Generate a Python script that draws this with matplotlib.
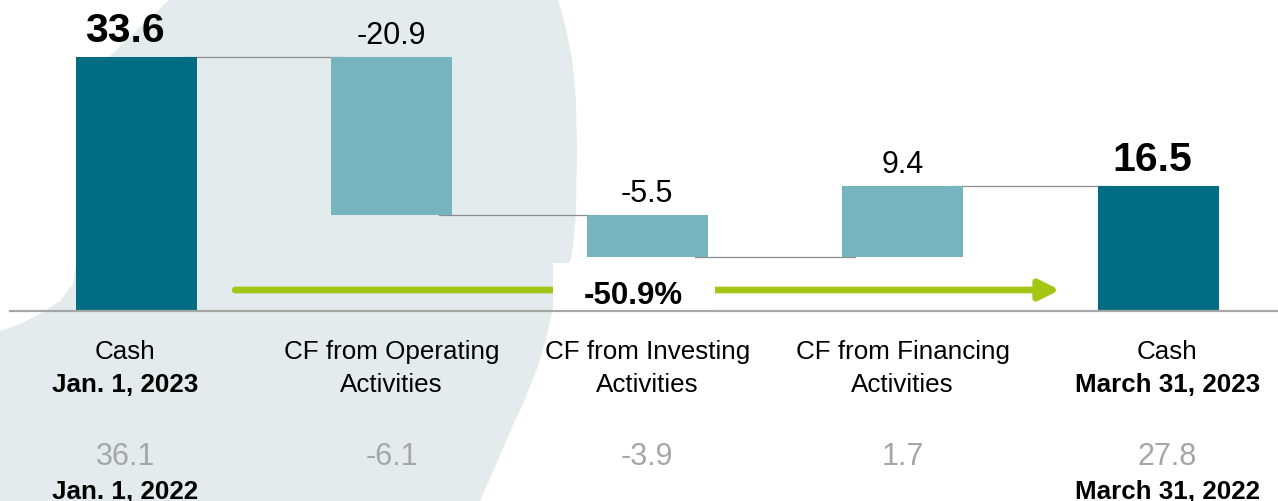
import matplotlib
matplotlib.use("Agg")
import matplotlib.pyplot as plt
from matplotlib.patches import Polygon, Rectangle

plt.rcParams["font.family"] = ["Liberation Sans", "DejaVu Sans"]

# data
label_top = ["Cash", "CF from Operating", "CF from Investing", "CF from Financing", "Cash"]
label_bottom = ["Jan. 1, 2023", "Activities", "Activities", "Activities", "March 31, 2023"]
bottom_bold = [True, False, False, False, True]
values_2023 = [33.6, -20.9, -5.5, 9.4, 16.5]
is_total = [True, False, False, False, True]
values_2022 = [36.1, -6.1, -3.9, 1.7, 27.8]
dates_2022 = ["Jan. 1, 2022", "", "", "", "March 31, 2022"]
change_text = "-50.9%"

DARK = "#006d82"
LIGHT = "#76b4be"
GREEN = "#a3c614"
GREY_TXT = "#a6a6a6"
BG = "#e3ebed"

fig = plt.figure(figsize=(12.78, 5.02), dpi=100)
ax = fig.add_axes([0, 0, 1, 1])
ax.patch.set_visible(False)
ax.axis("off")

# pixel layout -> data: baseline at 312px, 7.56 px per unit, 255.5 px per category
ax.set_xlim(-0.533, 4.469)
ax.set_ylim(-25.13, 41.27)

# decorative background swoosh (pixel coords, origin top-left)
bg_px = [(170, 0), (558, 0), (566, 30), (572, 60), (576, 100), (577, 150), (576, 215),
         (572, 255), (563, 290), (552, 313), (546, 340), (538, 367), (525, 400),
         (510, 433), (495, 468), (480, 502),
         (0, 502), (0, 332), (20, 325), (43, 313), (60, 302), (73, 285), (82, 220),
         (92, 140), (110, 57), (140, 28)]
bg = Polygon([(x / 1278, 1 - y / 502) for x, y in bg_px], closed=True,
             transform=fig.transFigure, facecolor=BG, edgecolor="none", zorder=-5)
fig.patches.append(bg)

# waterfall geometry
bottoms, levels = [], []
running = 0.0
for v, tot in zip(values_2023, is_total):
    if tot:
        b = 0.0
        running = v
    else:
        b = running
        running = running + v
    bottoms.append(b)
    levels.append(running)

xs = list(range(len(values_2023)))
width = 0.474
for i, (v, b, tot) in enumerate(zip(values_2023, bottoms, is_total)):
    ax.bar(i, v, bottom=b, width=width, color=DARK if tot else LIGHT, zorder=3)

# connectors
for i in range(len(xs) - 1):
    ax.plot([i + width / 2 - 0.05, i + 1 - width / 2 + 0.05], [levels[i], levels[i]],
            color="#8c8c8c", lw=0.9, zorder=2)

# baseline
ax.plot([-0.494, 4.469], [0, 0], color="#a6a6a6", lw=1.6, zorder=4)

# value labels above bars
for i, (v, b, tot) in enumerate(zip(values_2023, bottoms, is_total)):
    top = max(b, b + v)
    dx = -8 if i == 0 else (-4 if i == len(xs) - 1 else 0)
    ax.annotate(f"{v:.1f}", (i, top), xytext=(dx, 11.5 if tot else 10),
                textcoords="offset points", ha="center", va="baseline",
                fontsize=29.5 if tot else 22, fontweight="bold" if tot else "normal",
                color="black", zorder=5)

# category labels and prior-year values
for i in xs:
    dx = -0.042 if i == 0 else (0.035 if i == len(xs) - 1 else 0)
    ax.text(i + dx, -6.22, label_top[i], ha="center", va="baseline", fontsize=18.7)
    ax.text(i + dx, -10.6, label_bottom[i], ha="center", va="baseline", fontsize=18.7,
            fontweight="bold" if bottom_bold[i] else "normal")
    ax.text(i + dx, -20.24, f"{values_2022[i]:.1f}", ha="center", va="baseline",
            fontsize=22, color=GREY_TXT)
    if dates_2022[i]:
        ax.text(i + dx, -24.74, dates_2022[i], ha="center", va="baseline",
                fontsize=18.7, fontweight="bold")

# change arrow with label box
ax.annotate("", xy=(3.615, 2.78), xytext=(0.387, 2.78),
            arrowprops=dict(arrowstyle="-|>,head_length=0.6,head_width=0.3",
                            color=GREEN, lw=4.8, mutation_scale=20,
                            shrinkA=0, shrinkB=0),
            zorder=5)
ax.add_patch(Rectangle((1.631, 0.13), 0.634, 6.22, facecolor="white",
                       edgecolor="none", zorder=6))
ax.text(1.944, 1.06, change_text, ha="center", va="baseline", fontsize=22.5,
        fontweight="bold", zorder=7)

fig.savefig("out.png", dpi=100)
